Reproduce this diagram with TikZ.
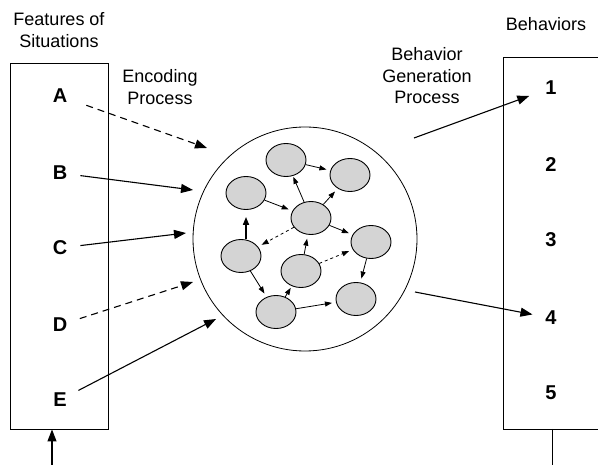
\documentclass[tikz,border=0pt]{standalone}
\usepackage{fontspec}
\setmainfont{Liberation Sans}
\usetikzlibrary{arrows.meta,shapes.geometric}
\begin{document}
\begin{tikzpicture}[x=1pt,y=-1pt,
  every node/.style={inner sep=0pt},
  cell/.style={ellipse,draw,fill=black!17,line width=0.9pt,minimum width=40pt,minimum height=33pt},
  feed/.style={line width=1.1pt,-{Triangle[length=12pt,width=9pt]}},
  link/.style={line width=0.8pt,-{Triangle[length=7pt,width=5pt]},shorten >=4pt},
  longdash/.style={dash pattern=on 7pt off 5pt},
  lbl/.style={font=\fontsize{18}{21.5}\selectfont,align=center},
  item/.style={font=\fontsize{20}{22}\selectfont\bfseries}]
\useasboundingbox (0,0) rectangle (598,465);
% headings
\node[lbl] (featlbl) at (59,30) {Features of\\Situations};
\node[lbl] (behlbl) at (546,24) {Behaviors};
\node[lbl] (enclbl) at (160,87) {Encoding\\Process};
\node[lbl] (genlbl) at (427,76) {Behavior\\Generation\\Process};
% feature box
\node[draw,line width=0.9pt,minimum width=98pt,minimum height=366pt] (features) at (59,246) {};
\node[item] (A) at (60,96) {A};
\node[item] (B) at (60,173) {B};
\node[item] (C) at (60,248) {C};
\node[item] (D) at (60,325) {D};
\node[item] (E) at (60,400) {E};
\coordinate (feedin) at (52,465);
\draw[feed] (feedin) -- (feedin |- features.south);
% behavior box
\draw[line width=0.9pt] (598,57) -- (503,57) -- (503,429) -- (598,429);
\node[item] (n1) at (551,88) {1};
\node[item] (n2) at (551,165) {2};
\node[item] (n3) at (551,240) {3};
\node[item] (n4) at (551,318) {4};
\node[item] (n5) at (551,393) {5};
\coordinate (behout) at (552,429);
\coordinate (behend) at (552,465);
\draw[line width=0.9pt] (behout) -- (behend);
% the cloud of units
\node[circle,draw,line width=0.8pt,minimum size=224pt] (cloud) at (305,239) {};
\node[cell] (c1) at (286,160) {};
\node[cell] (c2) at (350,175) {};
\node[cell] (c3) at (246,193) {};
\node[cell] (c4) at (311,218) {};
\node[cell] (c5) at (371,242) {};
\node[cell] (c6) at (241,256) {};
\node[cell] (c7) at (301,271) {};
\node[cell] (c8) at (356,299) {};
\node[cell] (c9) at (276,312) {};
\draw[link] (c1) -- (c2);
\draw[link] (c3) -- (c4);
\draw[link,shorten >=1pt] (c4) -- (c1);
\draw[link] (c4) -- (c2);
\draw[link] (c4) -- (c5);
\draw[link,dashed] (c4) -- (c6);
\draw[line width=1.6pt,-{Triangle[length=8pt,width=6pt]},shorten >=7pt] (c6.north -| c3.south) -- (c3.south);
\draw[link] (c6) -- (c9);
\draw[link,shorten >=2pt] (c9) -- (c7);
\draw[link] (c7) -- (c4);
\draw[link,dashed] (c7) -- (c5);
\draw[link] (c5) -- (c8);
\draw[link] (c9) -- (c8);
% encoding arrows
\coordinate (inA) at (207,148);
\coordinate (inB) at (193,190);
\coordinate (inC) at (186,233);
\coordinate (inD) at (193,282);
\coordinate (inE) at (216,319);
\draw[feed,longdash,shorten <=20pt] (A) -- (inA);
\draw[feed,shorten <=13pt] (B) -- (inB);
\draw[feed,shorten <=13pt] (C) -- (inC);
\draw[feed,longdash,shorten <=13pt] (D) -- (inD);
\draw[feed,shorten <=13pt] (E) -- (inE);
% generation arrows
\coordinate (out1) at (414,138);
\coordinate (out4) at (415,292);
\draw[feed,shorten >=17pt] (out1) -- (n1);
\draw[feed,shorten >=13pt] (out4) -- (n4);
\end{tikzpicture}
\end{document}
